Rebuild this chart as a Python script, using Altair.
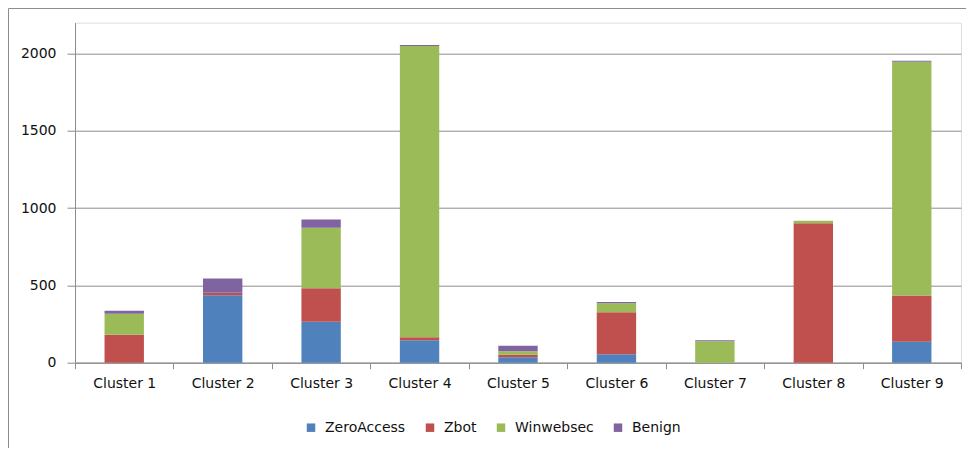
import altair as alt
import pandas as pd

clusters = ["Cluster 1", "Cluster 2", "Cluster 3", "Cluster 4", "Cluster 5",
            "Cluster 6", "Cluster 7", "Cluster 8", "Cluster 9"]
series = ["ZeroAccess", "Zbot", "Winwebsec", "Benign"]
zeroaccess = [0, 436, 265, 145, 35, 54, 0, 0, 136]
zbot = [181, 17, 216, 19, 17, 272, 0, 902, 298]
winwebsec = [136, 0, 392, 1885, 22, 58, 138, 17, 1514]
benign = [19, 91, 54, 6, 36, 8, 8, 0, 6]
colors = ["#4F81BD", "#C0504D", "#9BBB59", "#8064A2"]
y_ticks = [0, 500, 1000, 1500, 2000]

rows = []
for si, (name, vals) in enumerate(zip(series, [zeroaccess, zbot, winwebsec, benign])):
    for c, v in zip(clusters, vals):
        rows.append({"cluster": c, "series": name, "value": v, "idx": si})
df = pd.DataFrame(rows)

W, H = 886, 340
FONT = "DejaVu Sans"
GRAY = "#8c8c8c"

bars = alt.Chart(df).mark_bar(width={"band": 0.4}).encode(
    x=alt.X("cluster:N", sort=clusters, title=None,
            scale=alt.Scale(paddingInner=0, paddingOuter=0),
            axis=alt.Axis(labelAngle=0, tickBand="extent", tickSize=6,
                          tickColor=GRAY, domainColor=GRAY, labelPadding=8,
                          labelFont=FONT, labelFontSize=14, labelColor="#111111",
                          grid=False)),
    y=alt.Y("value:Q", stack="zero", title=None,
            scale=alt.Scale(domain=[0, 2200], nice=False),
            axis=alt.Axis(values=y_ticks, format="d", tickSize=8, tickColor=GRAY,
                          domainColor=GRAY, gridColor=GRAY, gridWidth=1,
                          labelPadding=11, labelFont=FONT, labelFontSize=14,
                          labelColor="#111111")),
    color=alt.Color("series:N", sort=series,
                    scale=alt.Scale(domain=series, range=colors),
                    legend=alt.Legend(title=None, orient="none", direction="horizontal",
                                      legendX=229, legendY=398, symbolType="square",
                                      symbolSize=72, symbolStrokeWidth=0,
                                      labelFont=FONT, labelFontSize=14,
                                      labelColor="#111111", columnPadding=17,
                                      labelOffset=7, padding=0)),
    order=alt.Order("idx:Q", sort="ascending"),
)

frame_data = alt.Data(values=[{}])
left_border = alt.Chart(frame_data).mark_rule(color=GRAY, strokeWidth=1).encode(
    x=alt.value(-66.5), y=alt.value(-14.2), y2=alt.value(H + 100))
top_border = alt.Chart(frame_data).mark_rule(color=GRAY, strokeWidth=1).encode(
    y=alt.value(-14.2), x=alt.value(-66.5), x2=alt.value(W + 20))

chart = alt.layer(bars, left_border, top_border).properties(
    width=W, height=H,
    padding={"left": 67, "top": 14.7, "right": 5, "bottom": 85},
    autosize=alt.AutoSizeParams(type="none"),
).configure_view(stroke=None).configure(background="white")

chart.save("out.html", embed_options={"renderer": "svg", "actions": False})
